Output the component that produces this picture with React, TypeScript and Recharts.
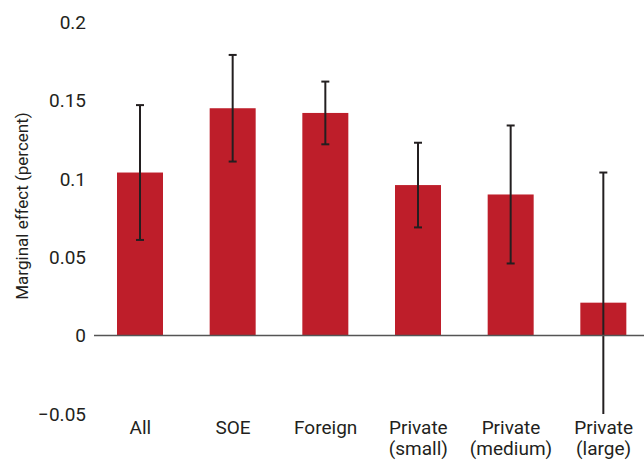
import React from 'react';
import { BarChart, Bar, XAxis, YAxis, ReferenceLine } from 'recharts';

// firm type categories (two-line labels split on the space)
const categories = ['All', 'SOE', 'Foreign', 'Private (small)', 'Private (medium)', 'Private (large)'];
const effects = [0.104, 0.145, 0.142, 0.096, 0.09, 0.021];
const errors = [0.043, 0.034, 0.02, 0.027, 0.044, 0.083];
const yTicks = [-0.05, 0, 0.05, 0.1, 0.15, 0.2];

const data = categories.map((name, i) => ({ name, value: effects[i], err: errors[i] }));

const FONT = 'Roboto, "Noto Sans", sans-serif';
const RED = '#be1e2a';
const INK = '#231f20';

const fmt = (v: number) => (v < 0 ? '\u2212' + String(-v) : String(v));

const CategoryTick = ({ x, y, payload }: any) => {
  const lines = String(payload.value).split(' ');
  return (
    <text x={x} y={y} textAnchor="middle" fill={INK} fontSize={19} fontFamily={FONT}>
      {lines.map((l, i) => (
        <tspan key={i} x={x} dy={i === 0 ? 12 : 21}>{l}</tspan>
      ))}
    </text>
  );
};

// bar + error whisker; whisker is cut at the bottom of the plot like the original
const BarWithError = (props: any) => {
  const { x, y, width, height, fill, payload, background } = props;
  const v = payload.value;
  const e = payload.err;
  const k = height / v; // px per unit, taken from the bar the scale drew
  const cx = x + width / 2;
  const zeroY = y + height;
  const top = y - e * k;
  const lowRaw = zeroY - (v - e) * k;
  const plotBottom = background ? background.y + background.height : 414;
  const clipped = lowRaw > plotBottom;
  const low = clipped ? plotBottom : lowRaw;
  const cap = 4;
  return (
    <g>
      <rect x={x} y={y} width={width} height={height} fill={fill} />
      <line x1={cx} x2={cx} y1={top} y2={low} stroke={INK} strokeWidth={2} />
      <line x1={cx - cap} x2={cx + cap} y1={top} y2={top} stroke={INK} strokeWidth={2} />
      {!clipped && <line x1={cx - cap} x2={cx + cap} y1={low} y2={low} stroke={INK} strokeWidth={2} />}
    </g>
  );
};

const AxisTitle = () => (
  <text
    x={22}
    y={206}
    transform="rotate(-90 22 206)"
    textAnchor="middle"
    dominantBaseline="central"
    fill={INK}
    fontSize={17}
    fontFamily={FONT}
  >
    Marginal effect (percent)
  </text>
);

export default function App() {
  return (
    <div style={{ position: 'absolute', left: 0, top: 0, width: 644, height: 463, overflow: 'hidden', background: '#fff' }}>
      <BarChart width={650} height={463} data={data} margin={{ top: 22, right: 0, left: 0, bottom: 0 }}>
        <XAxis dataKey="name" axisLine={false} tickLine={false} height={49} tick={<CategoryTick />} interval={0} />
        <YAxis
          width={94}
          domain={[-0.05, 0.2]}
          ticks={yTicks}
          allowDataOverflow
          axisLine={false}
          tickLine={false}
          tickFormatter={fmt}
          tick={{ fill: INK, fontSize: 19, fontFamily: FONT }}
          label={{ content: () => <AxisTitle /> }}
        />
        <ReferenceLine y={0} stroke="#555" strokeWidth={1.5} />
        <Bar dataKey="value" fill={RED} barSize={46} isAnimationActive={false} shape={<BarWithError />} />
      </BarChart>
    </div>
  );
}
